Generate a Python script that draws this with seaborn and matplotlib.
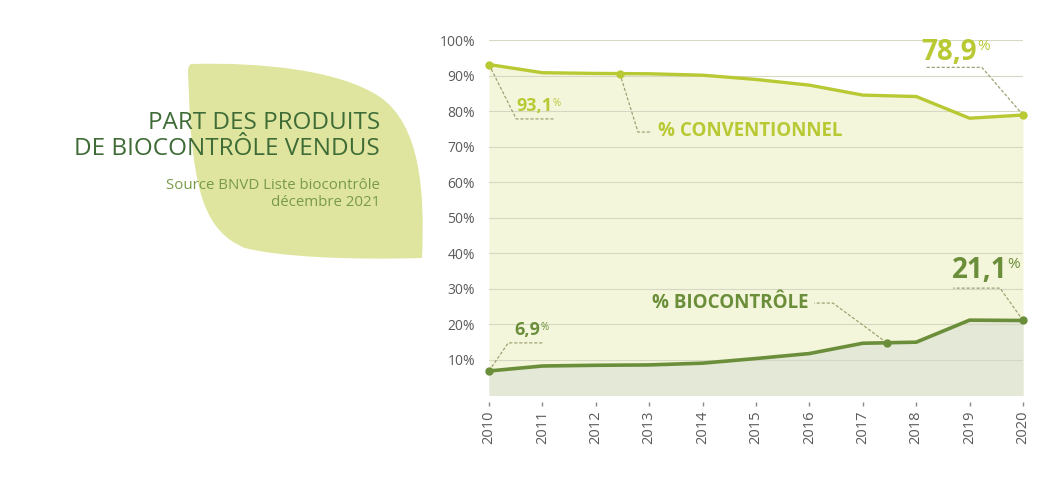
import numpy as np
import pandas as pd
import matplotlib.pyplot as plt
import seaborn as sns
from matplotlib.path import Path
from matplotlib.patches import PathPatch

# data
years = [2010, 2011, 2012, 2013, 2014, 2015, 2016, 2017, 2018, 2019, 2020]
conventionnel = [93.1, 90.8, 90.6, 90.5, 90.1, 88.9, 87.3, 84.5, 84.1, 78.0, 78.9]
biocontrole = [6.9, 8.3, 8.5, 8.6, 9.1, 10.4, 11.8, 14.7, 15.0, 21.2, 21.1]
yticks = [10, 20, 30, 40, 50, 60, 70, 80, 90, 100]

C_CONV = "#b8c934"
C_BIO = "#6b8e3a"
C_TITLE = "#3e6b36"
C_LEAD = "#9fa374"
FONT = "Open Sans"

df = pd.DataFrame({"annee": years, "conv": conventionnel, "bio": biocontrole})

sns.set_theme(style="white")
plt.rcParams["font.family"] = [FONT, "DejaVu Sans"]

W, H = 1058, 492
fig = plt.figure(figsize=(W / 100, H / 100), dpi=100)


def px(x, y):
    return (x / W, 1 - y / H)


# leaf shape behind the title
verts = [(192, 64),
         (260, 62), (340, 70), (380, 97),
         (420, 125), (425, 190), (422, 258),
         (350, 260), (280, 257), (245, 248),
         (205, 232), (195, 190), (190, 120),
         (188, 72),
         (188, 66), (190, 64), (192, 64)]
codes = ([Path.MOVETO] + [Path.CURVE4] * 12 + [Path.LINETO] + [Path.CURVE4] * 3)
leaf = PathPatch(Path([px(*v) for v in verts], codes), transform=fig.transFigure,
                 facecolor="#dfe59e", edgecolor="none", zorder=0)
fig.patches.append(leaf)

fig.text(380 / W, 1 - 136 / H, "PART DES PRODUITS\nDE BIOCONTRÔLE VENDUS", ha="right", va="center",
         fontsize=17.5, color=C_TITLE, linespacing=1.1)
fig.text(380 / W, 1 - 194 / H, "Source BNVD Liste biocontrôle\ndécembre 2021", ha="right", va="center",
         fontsize=10.8, color="#789a48", linespacing=1.15)

ax = fig.add_axes([489 / W, 1 - 395.5 / H, (1023 - 489) / W, (395.5 - 40) / H])
ax.set_facecolor("none")

ax.fill_between(df["annee"], 0, df["conv"], color="#f4f6dc", zorder=0, lw=0)
ax.fill_between(df["annee"], 0, df["bio"], color="#e3e8d7", zorder=0.5, lw=0)
for t in yticks:
    ax.axhline(t, color="#d6d8c4", lw=0.8, zorder=1)

sns.lineplot(data=df, x="annee", y="conv", color=C_CONV, lw=2.4, ax=ax, zorder=3)
sns.lineplot(data=df, x="annee", y="bio", color=C_BIO, lw=2.6, ax=ax, zorder=3)

# move the (hidden) bottom spine first: it resets the tick setup
sns.despine(ax=ax, left=True, bottom=True)
ax.spines["bottom"].set_position(("outward", 5))

ax.set_xlim(years[0], years[-1])
ax.set_ylim(0, 100)
ax.set_xticks(years)
ax.set_xticklabels([str(y) for y in years], rotation=90)
ax.set_yticks(yticks)
ax.set_yticklabels([f"{t}%" for t in yticks])
ax.set_xlabel("")
ax.set_ylabel("")
ax.tick_params(axis="y", length=0, pad=10, labelsize=10, labelcolor="#5a5a5a")
ax.tick_params(axis="x", direction="out", length=3, width=1, color="#8a8a8a", pad=2.5,
               labelsize=10.5, labelcolor="#5a5a5a", bottom=True)


def dot(x, y, c):
    ax.plot([x], [y], "o", ms=5, color=c, zorder=4, clip_on=False)


def leader(pts):
    xs, ys = zip(*pts)
    ax.plot(xs, ys, ls=(0, (2.5, 1.5)), lw=0.9, color=C_LEAD, zorder=2, clip_on=False)


def value_label(x, y, txt, c, size):
    t = ax.text(x, y, txt, ha="left", va="center", fontsize=size, fontweight="bold", color=c, zorder=5)
    ax.annotate("%", xy=(1, 1), xycoords=t, ha="left", va="top", fontsize=size * 0.55,
                color=c, xytext=(0, -1), textcoords="offset points")
    return t


# conventionnel annotations
dot(years[0], conventionnel[0], C_CONV)
dot(years[-1], conventionnel[-1], C_CONV)
leader([(years[0], conventionnel[0]), (2010.51, 77.8), (2011.24, 77.8)])
value_label(2010.52, 81.5, "93,1", C_CONV, 13)

xa = 2012.45
ya = np.interp(xa, years, conventionnel)
dot(xa, ya, C_CONV)
leader([(xa, ya), (2012.79, 74.1), (2013.05, 74.1)])
ax.text(2013.16, 74.4, "% CONVENTIONNEL", ha="left", va="center", fontsize=13.5,
        fontweight="bold", color=C_CONV, zorder=5)

leader([(years[-1], conventionnel[-1]), (2019.23, 92.3), (2018.18, 92.3)])
value_label(2018.1, 96.6, "78,9", C_CONV, 20)

# biocontrole annotations
dot(years[0], biocontrole[0], C_BIO)
dot(years[-1], biocontrole[-1], C_BIO)
leader([(years[0], biocontrole[0]), (2010.36, 14.8), (2011.01, 14.8)])
value_label(2010.48, 18.4, "6,9", C_BIO, 13)

xb = 2017.45
yb = np.interp(xb, years, biocontrole)
dot(xb, yb, C_BIO)
leader([(xb, yb), (2016.44, 26.0), (2016.09, 26.0)])
ax.text(2013.05, 26.0, "% BIOCONTRÔLE", ha="left", va="center", fontsize=13.5,
        fontweight="bold", color=C_BIO, zorder=5)

leader([(years[-1], biocontrole[-1]), (2019.57, 30.2), (2018.69, 30.2)])
value_label(2018.66, 35.3, "21,1", C_BIO, 20)

fig.savefig("out.png", dpi=100)
